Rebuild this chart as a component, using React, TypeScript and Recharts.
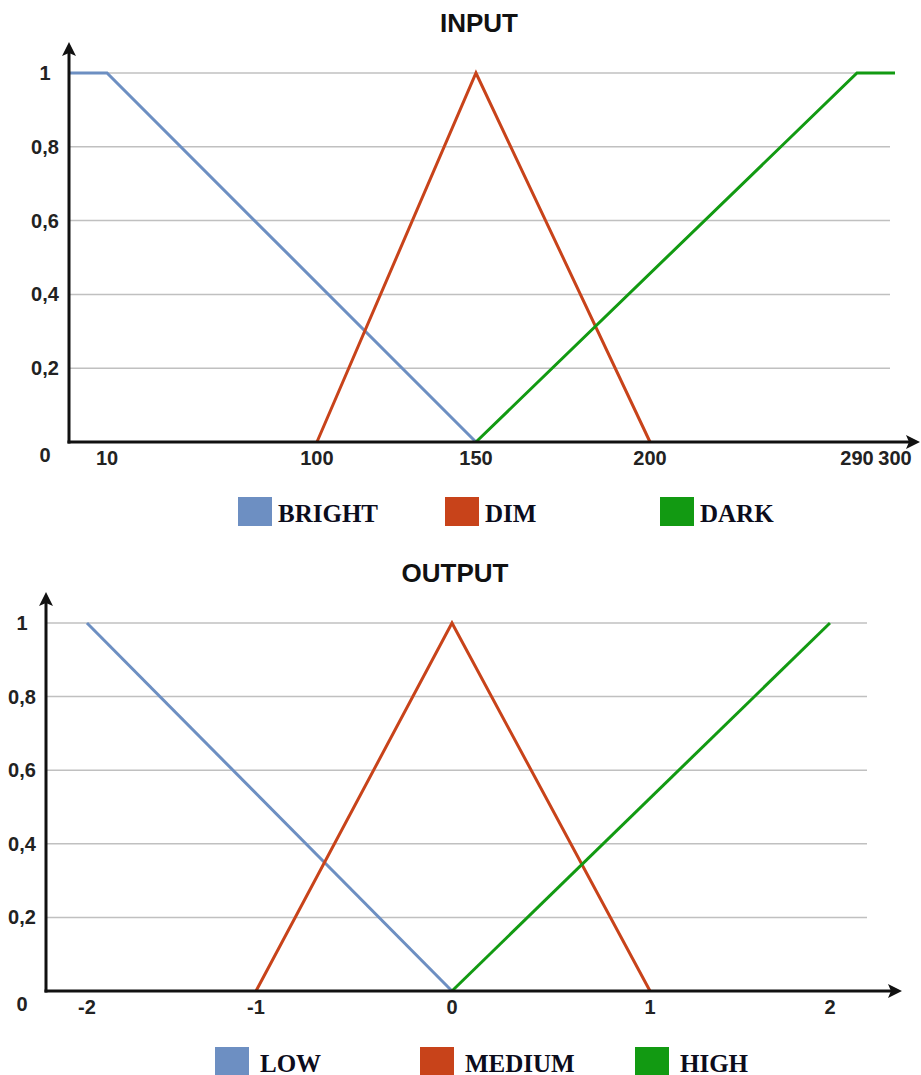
import { CartesianGrid, Legend, Line, LineChart, ReferenceLine, XAxis, YAxis } from "recharts";

// INPUT membership functions
const inputNames = ["BRIGHT", "DIM", "DARK"];
const inputTicks = [10, 100, 150, 200, 290, 300];
const brightX = [0, 10, 150];
const brightY = [1, 1, 0];
const dimX = [100, 150, 200];
const dimY = [0, 1, 0];
const darkX = [150, 290, 300];
const darkY = [0, 1, 1];

// OUTPUT membership functions
const outputNames = ["LOW", "MEDIUM", "HIGH"];
const outputTicks = [-2, -1, 0, 1, 2];
const lowX = [-2, 0];
const lowY = [1, 0];
const mediumX = [-1, 0, 1];
const mediumY = [0, 1, 0];
const highX = [0, 2];
const highY = [0, 1];

const degreeTicks = [0, 0.2, 0.4, 0.6, 0.8, 1];

// the original axes are not drawn to scale, so x goes through a piecewise scale
const inputStops = [0, 10, 100, 150, 200, 290, 300];
const inputFracs = [0, 0.0463, 0.302, 0.4957, 0.7077, 0.9598, 1.0061];
const outputStops = [-2.25, -2, -1, 0, 1, 2, 2.2];
const outputFracs = [0, 0.0499, 0.2558, 0.4945, 0.7357, 0.9549, 1];

const BLUE = "#6d8fc2";
const RED = "#c8431a";
const GREEN = "#129a12";

const pts = (xs: number[], ys: number[]) => xs.map((x, i) => ({ x, y: ys[i] }));

function warpScale(stops: number[], fracs: number[]): any {
  let dom: number[] = [stops[0], stops[stops.length - 1]];
  let rng: number[] = [0, 1];
  const seg = (v: number, from: number[]) => {
    let i = 0;
    while (i < from.length - 2 && v > from[i + 1]) i++;
    return i;
  };
  const toFrac = (v: number) => {
    const i = seg(v, stops);
    return fracs[i] + ((v - stops[i]) / (stops[i + 1] - stops[i])) * (fracs[i + 1] - fracs[i]);
  };
  const fromFrac = (f: number) => {
    const i = seg(f, fracs);
    return stops[i] + ((f - fracs[i]) / (fracs[i + 1] - fracs[i])) * (stops[i + 1] - stops[i]);
  };
  const scale: any = (v: unknown) => {
    const n = Number(v);
    if (!Number.isFinite(n)) return undefined;
    return rng[0] + (rng[1] - rng[0]) * toFrac(n);
  };
  scale.domain = (...args: any[]) => {
    if (!args.length) return dom.slice();
    dom = Array.from(args[0]);
    return scale;
  };
  scale.range = (...args: any[]) => {
    if (!args.length) return rng.slice();
    rng = Array.from(args[0]);
    return scale;
  };
  scale.invert = (px: number) => fromFrac((px - rng[0]) / (rng[1] - rng[0]));
  scale.ticks = () => stops.slice();
  scale.tickFormat = () => (v: number) => String(v);
  scale.nice = () => scale;
  scale.clamp = () => scale;
  scale.copy = () => warpScale(stops, fracs).domain(dom).range(rng);
  return scale;
}

const numFont = "'Liberation Sans', Arial, sans-serif";

const XTick = (props: any) => (
  <text x={props.x} y={props.y + 23} textAnchor="middle" fontFamily={numFont} fontWeight={700} fontSize={20} fill="#222">
    {props.payload.value}
  </text>
);

const YTick = (props: any) => {
  const v = props.payload.value as number;
  return (
    <text x={props.x} y={props.y + (v === 0 ? 20 : 7)} textAnchor="middle" fontFamily={numFont} fontWeight={700} fontSize={20} fill="#222">
      {String(v).replace(".", ",")}
    </text>
  );
};

const arrowMarker = (id: string) => (
  <defs>
    <marker id={id} markerUnits="userSpaceOnUse" markerWidth={14} markerHeight={14} viewBox="0 0 14 14" refX={3} refY={7} orient="auto">
      <path d="M0,0 L14,7 L0,14 L3,7 Z" fill="#111" />
    </marker>
  </defs>
);

const xAxisLine = (id: string, ext: number) => (p: any) => {
  const a = Math.min(p.x1, p.x2);
  const b = Math.max(p.x1, p.x2);
  return <line x1={a - 1.5} y1={p.y1} x2={b + ext} y2={p.y1} stroke="#111" strokeWidth={3} markerEnd={`url(#${id})`} />;
};

const yAxisLine = (id: string, ext: number) => (p: any) => {
  const a = Math.max(p.y1, p.y2);
  const b = Math.min(p.y1, p.y2);
  return <line x1={p.x1} y1={a + 1.5} x2={p.x1} y2={b - ext} stroke="#111" strokeWidth={3} markerEnd={`url(#${id})`} />;
};

function LegendBoxes({ payload, order, widths, gap }: any) {
  const items = order
    .map((name: string) => (payload || []).find((p: any) => p.value === name))
    .filter(Boolean);
  return (
    <div style={{ display: "flex" }}>
      {items.map((p: any, i: number) => (
        <div key={p.value} style={{ width: widths[i] ?? 200, display: "flex", alignItems: "center" }}>
          <span style={{ display: "inline-block", width: 34, height: 29, background: p.color }} />
          <span
            style={{
              marginLeft: gap,
              fontFamily: "'Liberation Serif', 'Times New Roman', serif",
              fontWeight: 700,
              fontSize: 25,
              color: "#0c0c1c",
              lineHeight: "29px",
              paddingTop: 4,
            }}
          >
            {p.value}
          </span>
        </div>
      ))}
    </div>
  );
}

const titleStyle = {
  position: "absolute" as const,
  top: 10,
  width: 200,
  textAlign: "center" as const,
  fontFamily: numFont,
  fontWeight: 700,
  fontSize: 26,
  lineHeight: "26px",
  color: "#111",
};

function InputChart() {
  const scale = warpScale(inputStops, inputFracs);
  return (
    <div style={{ position: "absolute", left: 0, top: 0, width: 921, height: 545 }}>
      <div style={{ ...titleStyle, left: 379 }}>INPUT</div>
      <LineChart width={921} height={545} margin={{ top: 73, right: 31, bottom: 73, left: 0 }}>
        {arrowMarker("arrIn")}
        <CartesianGrid vertical={false} stroke="#c0c0c0" strokeWidth={1.5} />
        <XAxis
          dataKey="x"
          type="number"
          scale={scale}
          domain={[0, 300]}
          ticks={inputTicks}
          interval={0}
          tick={<XTick />}
          tickLine={false}
          axisLine={false}
          tickSize={0}
          tickMargin={0}
          height={30}
        />
        <YAxis
          type="number"
          domain={[0, 1]}
          ticks={degreeTicks}
          interval={0}
          tick={<YTick />}
          tickLine={false}
          axisLine={false}
          tickSize={0}
          tickMargin={24}
          width={69}
        />
        <Line data={pts(brightX, brightY)} dataKey="y" name={inputNames[0]} type="linear" stroke={BLUE} strokeWidth={3} dot={false} isAnimationActive={false} />
        <Line data={pts(dimX, dimY)} dataKey="y" name={inputNames[1]} type="linear" stroke={RED} strokeWidth={3} dot={false} isAnimationActive={false} />
        <Line data={pts(darkX, darkY)} dataKey="y" name={inputNames[2]} type="linear" stroke={GREEN} strokeWidth={3} dot={false} isAnimationActive={false} />
        <ReferenceLine y={0} ifOverflow="visible" shape={xAxisLine("arrIn", 19)} />
        <ReferenceLine x={0} ifOverflow="visible" shape={yAxisLine("arrIn", 20)} />
        <Legend
          layout="horizontal"
          verticalAlign="middle"
          align="center"
          wrapperStyle={{ top: 495, left: 238, width: 680, height: 30 }}
          content={(props: any) => <LegendBoxes payload={props.payload} order={inputNames} widths={[207, 215, 215]} gap={6} />}
        />
      </LineChart>
    </div>
  );
}

function OutputChart() {
  const scale = warpScale(outputStops, outputFracs);
  return (
    <div style={{ position: "absolute", left: 0, top: 550, width: 921, height: 525 }}>
      <div style={{ ...titleStyle, left: 355 }}>OUTPUT</div>
      <LineChart width={921} height={525} margin={{ top: 73, right: 54, bottom: 54, left: 0 }}>
        {arrowMarker("arrOut")}
        <CartesianGrid vertical={false} stroke="#c0c0c0" strokeWidth={1.5} />
        <XAxis
          dataKey="x"
          type="number"
          scale={scale}
          domain={[-2.25, 2.2]}
          ticks={outputTicks}
          interval={0}
          tick={<XTick />}
          tickLine={false}
          axisLine={false}
          tickSize={0}
          tickMargin={0}
          height={30}
        />
        <YAxis
          type="number"
          domain={[0, 1]}
          ticks={degreeTicks}
          interval={0}
          tick={<YTick />}
          tickLine={false}
          axisLine={false}
          tickSize={0}
          tickMargin={24}
          width={46}
        />
        <Line data={pts(lowX, lowY)} dataKey="y" name={outputNames[0]} type="linear" stroke={BLUE} strokeWidth={3} dot={false} isAnimationActive={false} />
        <Line data={pts(mediumX, mediumY)} dataKey="y" name={outputNames[1]} type="linear" stroke={RED} strokeWidth={3} dot={false} isAnimationActive={false} />
        <Line data={pts(highX, highY)} dataKey="y" name={outputNames[2]} type="linear" stroke={GREEN} strokeWidth={3} dot={false} isAnimationActive={false} />
        <ReferenceLine y={0} ifOverflow="visible" shape={xAxisLine("arrOut", 24)} />
        <ReferenceLine x={-2.25} ifOverflow="visible" shape={yAxisLine("arrOut", 20)} />
        <Legend
          layout="horizontal"
          verticalAlign="middle"
          align="center"
          wrapperStyle={{ top: 495, left: 215, width: 680, height: 30 }}
          content={(props: any) => <LegendBoxes payload={props.payload} order={outputNames} widths={[205, 215, 215]} gap={11} />}
        />
      </LineChart>
    </div>
  );
}

export default function App() {
  return (
    <div style={{ position: "absolute", left: 0, top: 0, width: 921, height: 1075, background: "#fff" }}>
      <InputChart />
      <OutputChart />
    </div>
  );
}
